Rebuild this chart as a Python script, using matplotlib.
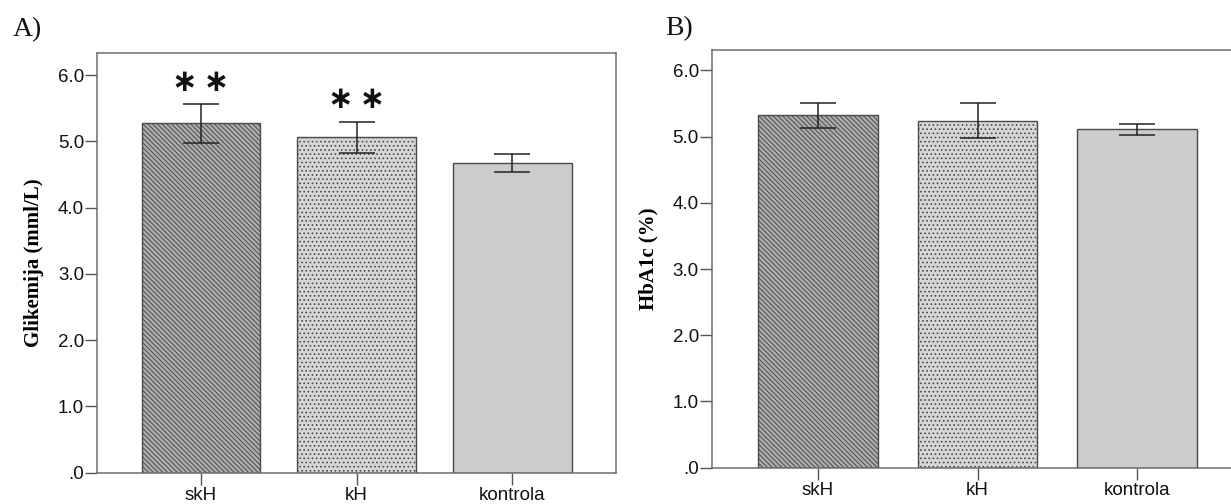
import matplotlib
matplotlib.use("Agg")
import matplotlib.pyplot as plt
import numpy as np

# ------------------------------
# Data
# ------------------------------
groups = ["skH", "kH", "kontrola"]

glik_mean = [5.27, 5.06, 4.67]
glik_err = [0.29, 0.235, 0.135]
glik_stars = ["\u2217\u2009\u2217", "\u2217\u2009\u2217", ""]

hba_mean = [5.32, 5.24, 5.11]
hba_err = [0.195, 0.265, 0.085]

yticks = [0, 1, 2, 3, 4, 5, 6]
ytick_labels = [".0", "1.0", "2.0", "3.0", "4.0", "5.0", "6.0"]

# bar looks (SPSS-ish)
face_cols = ["#adadad", "#d6d6d6", "#cccccc"]
hatches = ["\\" * 7, "....", ""]

plt.rcParams["font.family"] = ["Liberation Sans", "DejaVu Sans"]
plt.rcParams["hatch.linewidth"] = 0.7
plt.rcParams["hatch.color"] = "#2a2a2a"


def draw_panel(ax, means, errs, ylabel, top, width):
    x = np.arange(len(groups))
    bars = ax.bar(x, means, width=width, color=face_cols, edgecolor="#4a4a4a",
                  linewidth=1.0, zorder=2)
    for b, h in zip(bars, hatches):
        b.set_hatch(h)
    ax.errorbar(x, means, yerr=errs, fmt="none", ecolor="#222222",
                elinewidth=1.1, capsize=13, capthick=1.1, zorder=3)

    ax.set_xlim(-0.665, 2.665)
    ax.set_ylim(0, top)
    ax.set_yticks(yticks)
    ax.set_yticklabels(ytick_labels)
    ax.set_xticks(x)
    ax.set_xticklabels(groups)
    ax.tick_params(axis="both", direction="out", length=8.5, width=1.0,
                   color="#555555", labelsize=13.5, labelcolor="#111111")
    ax.tick_params(axis="y", pad=1)
    ax.tick_params(axis="x", pad=2)
    for s in ax.spines.values():
        s.set_color("#6e6e6e")
        s.set_linewidth(1.1)
    ax.set_ylabel(ylabel, family=["Liberation Serif", "DejaVu Serif"],
                  fontweight="bold", fontsize=15, labelpad=10)
    return x


fig = plt.figure(figsize=(12.31, 5.04), dpi=100)

axA = fig.add_axes([0.079, 0.0625, 0.4214, 0.832])
xa = draw_panel(axA, glik_mean, glik_err, "Glikemija (mml/L)", 6.33, 0.76)
for xi, m, e, s in zip(xa, glik_mean, glik_err, glik_stars):
    if s:
        axA.text(xi, m + e + 0.33, s, ha="center", va="center",
                 fontsize=22, fontweight="bold", color="#111111",
                 family="DejaVu Sans")

axB = fig.add_axes([0.5784, 0.072, 0.4314, 0.829])
draw_panel(axB, hba_mean, hba_err, "HbA1c (%)", 6.31, 0.75)

fig.text(0.010, 0.928, "A)", family=["Liberation Serif", "DejaVu Serif"],
         fontsize=20, color="#111111")
fig.text(0.540, 0.930, "B)", family=["Liberation Serif", "DejaVu Serif"],
         fontsize=20, color="#111111")

fig.savefig("out.png", dpi=100, facecolor="white")
